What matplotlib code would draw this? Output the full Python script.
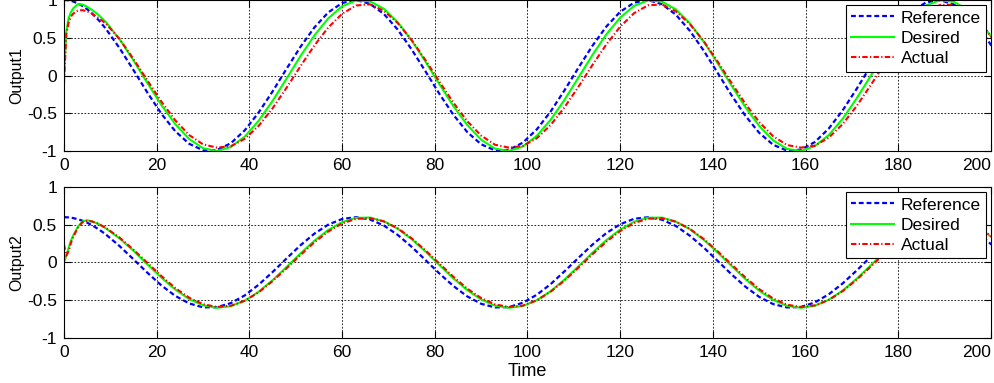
import numpy as np
import matplotlib
matplotlib.use('Agg')
from matplotlib import pyplot as plt

plt.rcParams['font.family'] = ['Liberation Sans', 'DejaVu Sans']

# time samples
t = [0, 0.5, 1, 1.5, 2, 3, 4, 5, 6, 7.5,
     9, 12, 15, 18, 21, 24, 27, 30, 33, 36, 39, 42, 45, 48, 51, 54, 57, 60,
     63, 66, 69, 72, 75, 78, 81, 84, 87, 90, 93, 96, 99, 102, 105, 108, 111,
     114, 117, 120, 123, 126, 129, 132, 135, 138, 141, 144, 147, 150, 153,
     156, 159, 162, 165, 168, 171, 174, 177, 180, 183, 186, 189, 192, 195,
     198, 201]

# Output1
ref1 = [1.000, 0.999, 0.995, 0.989, 0.980, 0.955, 0.921, 0.878, 0.825, 0.732,
        0.622, 0.362, 0.071, -0.227, -0.505, -0.737, -0.904, -0.990, -0.987,
        -0.897, -0.726, -0.490, -0.211, 0.087, 0.378, 0.635, 0.835, 0.960,
        1.000, 0.950, 0.816, 0.608, 0.346, 0.054, -0.244, -0.519, -0.749,
        -0.911, -0.992, -0.985, -0.889, -0.714, -0.476, -0.194, 0.104, 0.393,
        0.648, 0.844, 0.965, 0.999, 0.945, 0.806, 0.594, 0.331, 0.037, -0.260,
        -0.533, -0.760, -0.918, -0.994, -0.982, -0.881, -0.702, -0.461, -0.178,
        0.121, 0.409, 0.660, 0.853, 0.969, 0.999, 0.939, 0.796, 0.581, 0.315]
des1 = [0.0, 0.58, 0.76, 0.84, 0.89, 0.945, 0.94, 0.91, 0.87, 0.80,
        0.71, 0.480, 0.199, -0.099, -0.389, -0.643, -0.841, -0.963, -1.000,
        -0.947, -0.809, -0.599, -0.336, -0.042, 0.255, 0.529, 0.756, 0.916,
        0.994, 0.983, 0.884, 0.706, 0.465, 0.183, -0.116, -0.404, -0.656,
        -0.850, -0.968, -0.999, -0.941, -0.799, -0.586, -0.320, -0.026, 0.271,
        0.544, 0.767, 0.922, 0.995, 0.979, 0.876, 0.694, 0.450, 0.166, -0.132,
        -0.419, -0.669, -0.859, -0.972, -0.998, -0.935, -0.789, -0.573, -0.304,
        -0.009, 0.287, 0.557, 0.778, 0.929, 0.997, 0.976, 0.868, 0.682, 0.436]
act1 = [-0.10, 0.55, 0.70, 0.78, 0.82, 0.86, 0.865, 0.85, 0.82, 0.76,
        0.69, 0.483, 0.218, -0.066, -0.345, -0.593, -0.788, -0.912, -0.955,
        -0.936, -0.839, -0.667, -0.435, -0.164, 0.121, 0.396, 0.635, 0.817,
        0.927, 0.943, 0.857, 0.695, 0.470, 0.203, -0.082, -0.359, -0.605,
        -0.796, -0.917, -0.955, -0.933, -0.831, -0.655, -0.420, -0.148, 0.138,
        0.411, 0.647, 0.826, 0.930, 0.941, 0.850, 0.683, 0.456, 0.187, -0.098,
        -0.374, -0.617, -0.805, -0.921, -0.955, -0.929, -0.823, -0.643, -0.406,
        -0.132, 0.153, 0.425, 0.659, 0.834, 0.934, 0.938, 0.842, 0.672, 0.441]

# Output2
ref2 = [0.600, 0.599, 0.597, 0.593, 0.588, 0.573, 0.553, 0.527, 0.495, 0.439,
        0.373, 0.217, 0.042, -0.136, -0.303, -0.442, -0.542, -0.594, -0.592,
        -0.538, -0.436, -0.294, -0.127, 0.052, 0.227, 0.381, 0.501, 0.576,
        0.600, 0.570, 0.490, 0.365, 0.208, 0.032, -0.146, -0.311, -0.449,
        -0.547, -0.595, -0.591, -0.533, -0.428, -0.286, -0.116, 0.062, 0.236,
        0.389, 0.506, 0.579, 0.599, 0.567, 0.484, 0.356, 0.199, 0.022, -0.156,
        -0.320, -0.456, -0.551, -0.596, -0.589, -0.529, -0.421, -0.277, -0.107,
        0.073, 0.245, 0.396, 0.512, 0.581, 0.599, 0.563, 0.478, 0.349, 0.189]
des2 = [0.0, 0.09, 0.19, 0.29, 0.36, 0.47, 0.545, 0.56, 0.545, 0.51,
        0.455, 0.319, 0.155, -0.024, -0.200, -0.357, -0.484, -0.567, -0.600,
        -0.578, -0.506, -0.388, -0.235, -0.061, 0.118, 0.287, 0.430, 0.534,
        0.591, 0.595, 0.546, 0.448, 0.310, 0.145, -0.034, -0.209, -0.366,
        -0.490, -0.571, -0.600, -0.576, -0.500, -0.380, -0.226, -0.051, 0.128,
        0.295, 0.436, 0.539, 0.593, 0.594, 0.542, 0.442, 0.302, 0.135, -0.044,
        -0.219, -0.374, -0.496, -0.574, -0.600, -0.573, -0.494, -0.372, -0.216,
        -0.041, 0.137, 0.304, 0.443, 0.543, 0.594, 0.592, 0.538, 0.435, 0.293]
act2 = [0.24, 0.09, 0.15, 0.26, 0.34, 0.46, 0.535, 0.55, 0.545, 0.509,
        0.459, 0.329, 0.169, -0.005, -0.179, -0.338, -0.466, -0.552, -0.589,
        -0.573, -0.507, -0.395, -0.247, -0.078, 0.098, 0.266, 0.410, 0.517,
        0.578, 0.587, 0.544, 0.453, 0.320, 0.160, -0.015, -0.189, -0.346,
        -0.471, -0.555, -0.589, -0.571, -0.502, -0.387, -0.238, -0.068, 0.108,
        0.274, 0.417, 0.522, 0.580, 0.586, 0.540, 0.446, 0.312, 0.150, -0.025,
        -0.198, -0.353, -0.477, -0.559, -0.590, -0.568, -0.496, -0.379, -0.229,
        -0.058, 0.118, 0.283, 0.424, 0.526, 0.582, 0.585, 0.536, 0.440, 0.303]

labels = ['Reference', 'Desired', 'Actual']
ylabels = ['Output1', 'Output2']
xticks = [0, 20, 40, 60, 80, 100, 120, 140, 160, 180, 200]
yticks = [-1, -0.5, 0, 0.5, 1]

fig = plt.figure(figsize=(9.95, 3.83), dpi=100)
ax1 = fig.add_axes([0.0643, 0.6057, 0.9317, 0.3943])
ax2 = fig.add_axes([0.0643, 0.1175, 0.9317, 0.3943])

for ax, r, d, a, yl in [(ax1, ref1, des1, act1, ylabels[0]),
                        (ax2, ref2, des2, act2, ylabels[1])]:
    ax.plot(t, r, color='b', lw=1.6, dashes=(2.2, 1.3), label=labels[0])
    ax.plot(t, d, color=(0, 1, 0), lw=1.5, label=labels[1])
    ax.plot(t, a, color='r', lw=1.5, dashes=(2.6, 1.1, 0.6, 1.1), label=labels[2])
    ax.set_xlim(0, 200)
    ax.set_ylim(-1, 1)
    ax.set_xticks(xticks)
    ax.set_yticks(yticks)
    ax.set_yticklabels(['-1', '-0.5', '0', '0.5', '1'])
    ax.grid(True, color='k', linestyle=(0, (2, 2)), linewidth=0.6)
    ax.tick_params(direction='in', length=5, top=True, right=True,
                   labelsize=12.5, pad=5)
    ax.set_ylabel(yl, fontsize=11.5, labelpad=2)
    for s in ax.spines.values():
        s.set_linewidth(0.8)
    xl = ax.get_xticklabels()
    xl[-1].set_horizontalalignment('right')
    leg = ax.legend(loc='upper right', fontsize=12.5, fancybox=False,
                    framealpha=1, edgecolor='k', handlelength=2.5,
                    handletextpad=0.35, labelspacing=0.3, borderpad=0.3,
                    borderaxespad=0.3)
    leg.get_frame().set_linewidth(0.8)

ax2.set_xlabel('Time', fontsize=13, labelpad=2)

fig.savefig('out.png', dpi=100)
